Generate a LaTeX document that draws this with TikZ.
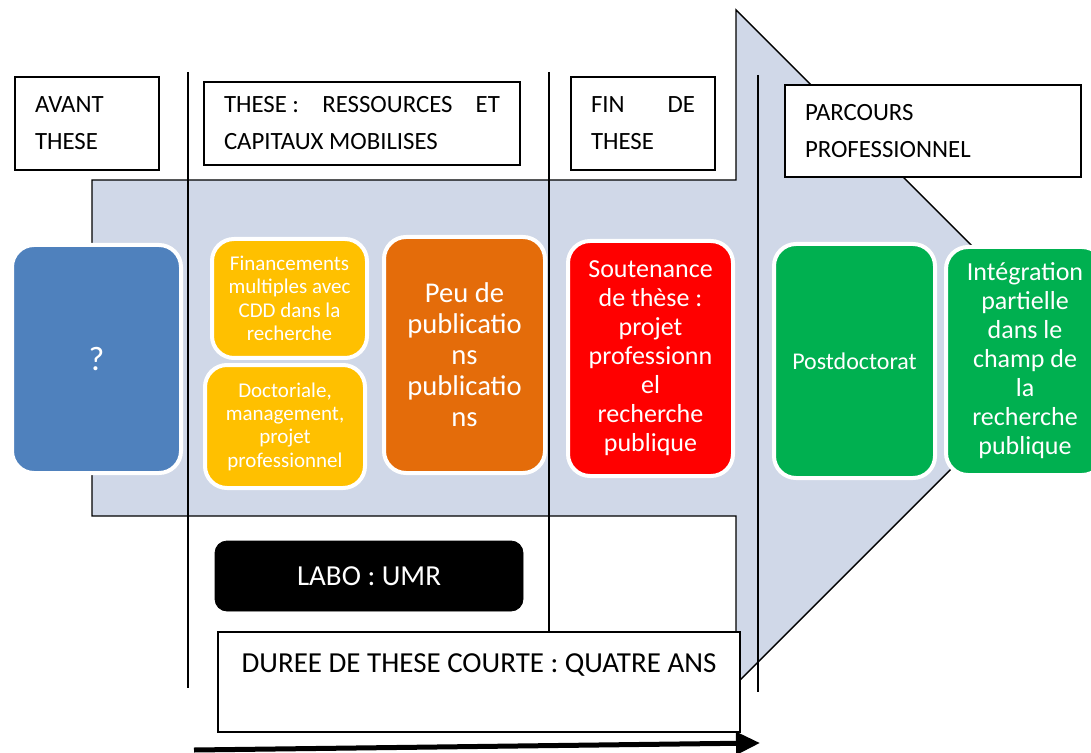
\documentclass[tikz,border=0pt]{standalone}
\usepackage{fontspec}
\setmainfont{Carlito}
\usepackage{tikz}
\usetikzlibrary{arrows.meta,positioning}
\definecolor{band}{HTML}{D0D8E8}
\definecolor{avant}{HTML}{4F81BD}
\definecolor{ressource}{HTML}{FFC000}
\definecolor{publi}{HTML}{E46C0A}
\definecolor{soutenance}{HTML}{FF0000}
\definecolor{carriere}{HTML}{00B050}

\begin{document}
\begin{tikzpicture}[x=0.5pt,y=-0.5pt,
  hd/.style={draw,fill=white,line width=0.6pt,inner xsep=10pt,inner ysep=0pt,font={\fontsize{12.4}{18.5}\selectfont}},
  blk/.style={draw=white,line width=2pt,rounded corners=11pt,text=white,align=center,inner sep=2pt},
  arr/.style={-{Triangle[length=12pt,width=11pt]},line width=2.5pt}]
\useasboundingbox (0,0) rectangle (1091,753);
% grande fleche
\draw[fill=band,line width=0.7pt] (92,180) -- (736,180) -- (736,10) -- (1073,347) -- (736,684) -- (736,516) -- (92,516) -- cycle;
\foreach \x/\ya/\yb in {188/72/688,549/72/632,758/75/692}
  \draw[line width=0.8pt] (\x,\ya) -- (\x,\yb);
% entetes
\node[hd,text width=52pt,minimum height=46.5pt,align=left] (avant) at (87,123.5) {AVANT THESE};
\node[hd,text width=138pt,minimum height=41.5pt,align=justify] (these) at (362,123.5) {\mbox{THESE :} RESSOURCES ET CAPITAUX MOBILISES};
\node[hd,text width=52pt,minimum height=46.5pt,align=justify] (findt) at (643,123.5) {FIN DE THESE};
\node[hd,text width=128pt,minimum height=46pt,align=left] (parc) at (933,131) {PARCOURS\\PROFESSIONNEL};
% etapes
\node[blk,fill=avant,minimum width=84.5pt,minimum height=114pt,font={\fontsize{17}{19}\selectfont}] (q) at (96.5,359) {?};
\node[blk,fill=ressource,minimum width=77.5pt,minimum height=59.5pt,font={\fontsize{10.5}{11.7}\selectfont}] (fin) at (289.5,298.5) {Financements\\multiples avec\\CDD dans la\\recherche};
\node[blk,fill=ressource,minimum width=80pt,minimum height=61.5pt,font={\fontsize{10.5}{11.7}\selectfont}] (doct) at (285,426.5) {Doctoriale,\\management,\\projet\\professionnel};
\node[blk,fill=publi,minimum width=80.5pt,minimum height=118pt,font={\fontsize{14.3}{15.5}\selectfont}] (peu) at (464.5,355) {Peu de\\publicatio\\ns\\publicatio\\ns};
\node[blk,fill=soutenance,minimum width=82.5pt,minimum height=117.5pt,font={\fontsize{13}{14.5}\selectfont}] (sout) at (650.5,358.5) {Soutenance\\de thèse :\\projet\\professionn\\el\\recherche\\publique};
\node[blk,fill=carriere,minimum width=80.5pt,minimum height=117pt,font={\fontsize{12}{14}\selectfont}] (post) at (854.5,361) {Postdoctorat};
\node[blk,fill=carriere,minimum width=79pt,minimum height=114pt,font={\fontsize{13}{14.5}\selectfont},right=3.5pt of post] (integ) {Intégration\\partielle\\dans le\\champ de\\la\\recherche\\publique};
% bas
\node[draw,fill=black,text=white,rounded corners=6pt,minimum width=154pt,minimum height=35pt,font={\fontsize{14.5}{16}\selectfont}] (labo) at (369,576) {LABO : UMR};
\node[draw,fill=white,line width=0.6pt,minimum width=261pt,inner ysep=0pt,text height=20pt,text depth=30pt,font={\fontsize{14.5}{16}\selectfont}] (duree) at (479,682) {DUREE DE THESE COURTE : QUATRE ANS};
\coordinate (t0) at (194,750);
\coordinate (t1) at (760,743);
\draw[arr] (t0) -- (t1);
\end{tikzpicture}
\end{document}
